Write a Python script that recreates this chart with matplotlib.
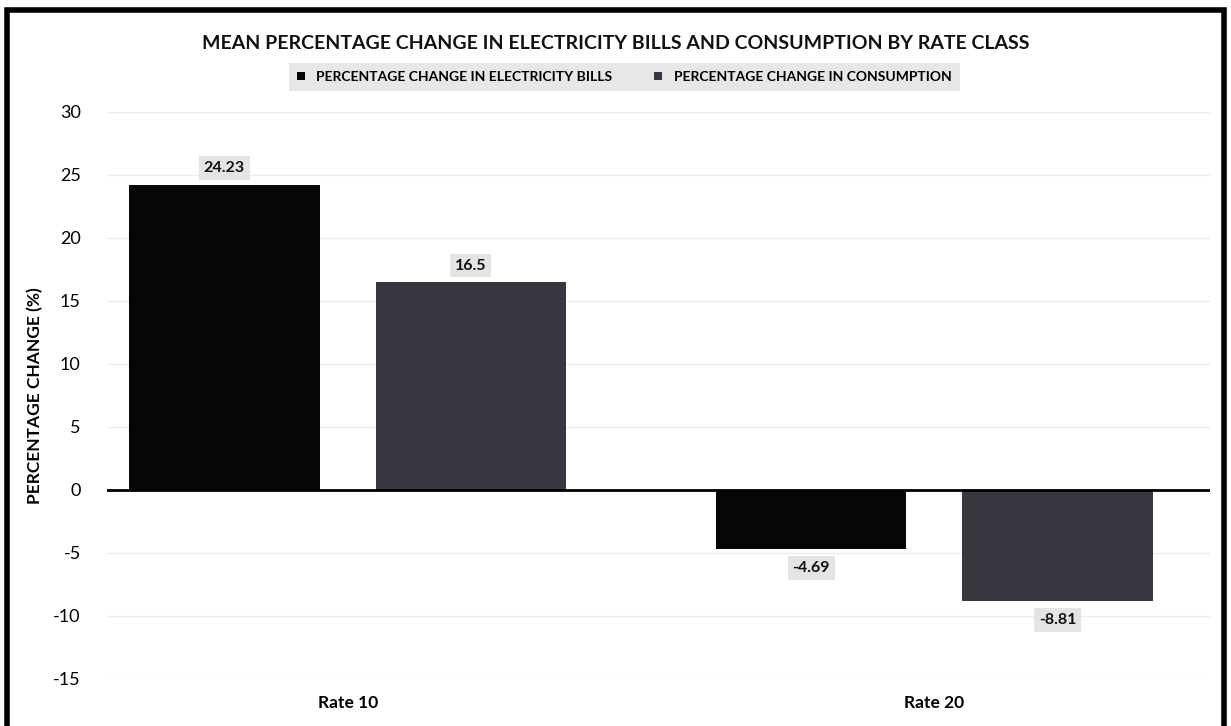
import matplotlib.pyplot as plt
import numpy as np
from matplotlib.patches import Rectangle

rate_classes = ["Rate 10", "Rate 20"]
bill_change = [24.23, -4.69]
consumption_change = [16.5, -8.81]
series_names = ["PERCENTAGE CHANGE IN ELECTRICITY BILLS", "PERCENTAGE CHANGE IN CONSUMPTION"]
y_ticks = [-15, -10, -5, 0, 5, 10, 15, 20, 25, 30]

plt.rcParams["font.family"] = ["Lato", "DejaVu Sans"]
plt.rcParams["axes.unicode_minus"] = False

fig = plt.figure(figsize=(12.31, 7.26), dpi=100)
ax = fig.add_axes([0.087, 0.065, 0.896, 0.781])

x = np.arange(len(rate_classes))
w = 0.325
off = 0.21
colors = ["#060606", "#3a3640"]
b1 = ax.bar(x - off, bill_change, w, color=colors[0], label=series_names[0], zorder=3)
b2 = ax.bar(x + off, consumption_change, w, color=colors[1], label=series_names[1], zorder=3)

# value labels on grey boxes
for bars in (b1, b2):
    for r in bars:
        v = r.get_height()
        y = v + 1.3 if v >= 0 else v - 1.5
        ax.text(r.get_x() + r.get_width() / 2, y, f"{v:g}", ha="center", va="center",
                fontsize=11.5, fontweight="bold", color="#111111",
                bbox=dict(boxstyle="square,pad=0.3", fc="#e4e4e4", ec="none"), zorder=4)

ax.set_ylim(-15, 30)
ax.set_xlim(-0.41, 1.47)
ax.set_yticks(y_ticks)
ax.set_xticks(x)
ax.set_xticklabels(rate_classes, fontsize=12.5, fontweight="bold")
ax.tick_params(axis="y", labelsize=13, length=0, pad=19)
ax.tick_params(axis="x", length=0, pad=12)
ax.grid(axis="y", color="#ececec", linewidth=1, zorder=0)
ax.axhline(0, color="black", linewidth=2, zorder=5)
for s in ax.spines.values():
    s.set_visible(False)
ax.set_ylabel("PERCENTAGE CHANGE (%)", fontsize=12.5, fontweight="bold")
ax.yaxis.set_label_coords(-0.058, 0.5)

fig.text(0.5, 0.94, "MEAN PERCENTAGE CHANGE IN ELECTRICITY BILLS AND CONSUMPTION BY RATE CLASS",
         ha="center", va="center", fontsize=14, fontweight="bold", color="#111111")

leg = fig.legend(loc="center", bbox_to_anchor=(0.507, 0.894), ncol=2, frameon=True,
                 prop={"weight": "bold", "size": 10}, handlelength=0.6,
                 handleheight=0.6, columnspacing=3, borderpad=0.6, fancybox=False)
leg.get_frame().set_facecolor("#e2e2e2")
leg.get_frame().set_edgecolor("none")

# outer frame
fig.patches.append(Rectangle((0.006, -0.01), 0.988, 0.996, transform=fig.transFigure,
                             fill=False, edgecolor="black", linewidth=4))

fig.savefig("out.png", dpi=100)
